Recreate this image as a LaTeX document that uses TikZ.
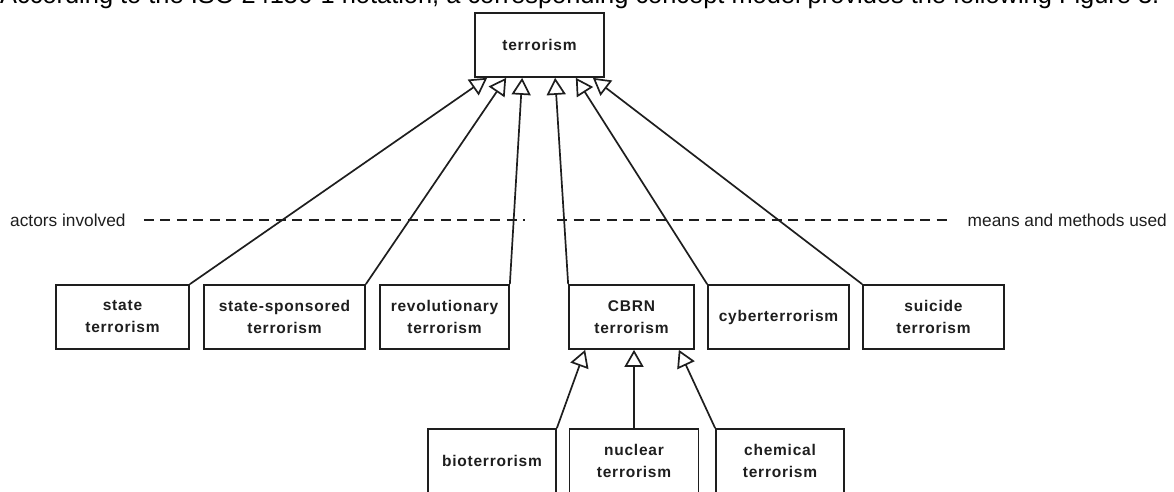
\documentclass[tikz,border=0pt]{standalone}
\usepackage{fontspec}
\setmainfont{Liberation Sans}
\newfontfamily\conceptfont[LetterSpace=5]{Liberation Sans}
\usetikzlibrary{arrows.meta}
\definecolor{umlgray}{RGB}{30,30,30}

\begin{document}
\begin{tikzpicture}[x=1pt, y=-1pt,
    concept/.style={draw=umlgray, line width=1.7pt, align=center, inner sep=0pt,
        minimum height=64pt, text=umlgray, font=\conceptfont\bfseries\fontsize{15.5}{22}\selectfont},
    isa/.style={draw=umlgray, line width=1.7pt, -{Triangle[open, length=17pt, width=19pt]}},
    split/.style={draw=umlgray, line width=1.5pt, dash pattern=on 10pt off 6.5pt},
    note/.style={inner sep=0pt, text=umlgray, font=\fontsize{17.3}{20}\selectfont}]

\useasboundingbox (0,0) rectangle (1174,491);
\clip (0,0) rectangle (1174,491);

% Text above the figure (cut by the page edge)
\node[anchor=base west, inner sep=0pt, font=\fontsize{25.4}{28}\selectfont] (lead) at (0,3)
    {According to the ISO 24156-1 notation, a corresponding concept model provides the following Figure 3.};

% ==================== SUPERORDINATE CONCEPT ====================
\node[concept, minimum width=129pt] (terrorism) at (539.5,45) {terrorism};

% ==================== SUBORDINATE CONCEPTS ====================
\node[concept, minimum width=133pt] (state)    at (122.5,317) {state\\terrorism};
\node[concept, minimum width=161pt] (sponsored) at (284.5,317) {state-sponsored\\terrorism};
\node[concept, minimum width=129pt] (revolution) at (444.5,317) {revolutionary\\terrorism};
\node[concept, minimum width=125pt] (cbrn)     at (631.5,317) {CBRN\\terrorism};
\node[concept, minimum width=141pt] (cyber)    at (778.5,317) {cyberterrorism};
\node[concept, minimum width=141pt] (suicide)  at (933.5,317) {suicide\\terrorism};

% CBRN kinds
\node[concept, minimum width=128pt] (bio)      at (492,461)   {bioterrorism};
\node[concept, minimum width=129pt] (nuclear)  at (634,461)   {nuclear\\terrorism};
\node[concept, minimum width=128pt] (chemical) at (780,461)   {chemical\\terrorism};

% ==================== CRITERIA ====================
\node[note, anchor=west] (actors) at (10,220) {actors involved};
\node[note, anchor=east] (means) at (1167,220) {means and methods used};
\coordinate (splitL) at (525,220);
\coordinate (splitR) at (557,220);
\draw[split] ([xshift=18pt]actors.east) -- (splitL);
\draw[split] (splitR) -- ([xshift=-16pt]means.west);

% ==================== GENERALIZATIONS ====================
\draw[isa] (state.north east)      -- ([xshift=13pt]terrorism.south west);
\draw[isa] (sponsored.north east)  -- ([xshift=32pt]terrorism.south west);
\draw[isa] (revolution.north east) -- ([xshift=48pt]terrorism.south west);
\draw[isa] (cbrn.north west)       -- ([xshift=81pt]terrorism.south west);
\draw[isa] (cyber.north west)      -- ([xshift=-29pt]terrorism.south east);
\draw[isa] (suicide.north west)    -- ([xshift=-12pt]terrorism.south east);

\draw[isa] (bio.north east)        -- ([xshift=17pt]cbrn.south west);
\draw[isa] (nuclear.north)         -- (nuclear.north |- cbrn.south);
\draw[isa] (chemical.north west)   -- ([xshift=-16pt]cbrn.south east);

\end{tikzpicture}
\end{document}
